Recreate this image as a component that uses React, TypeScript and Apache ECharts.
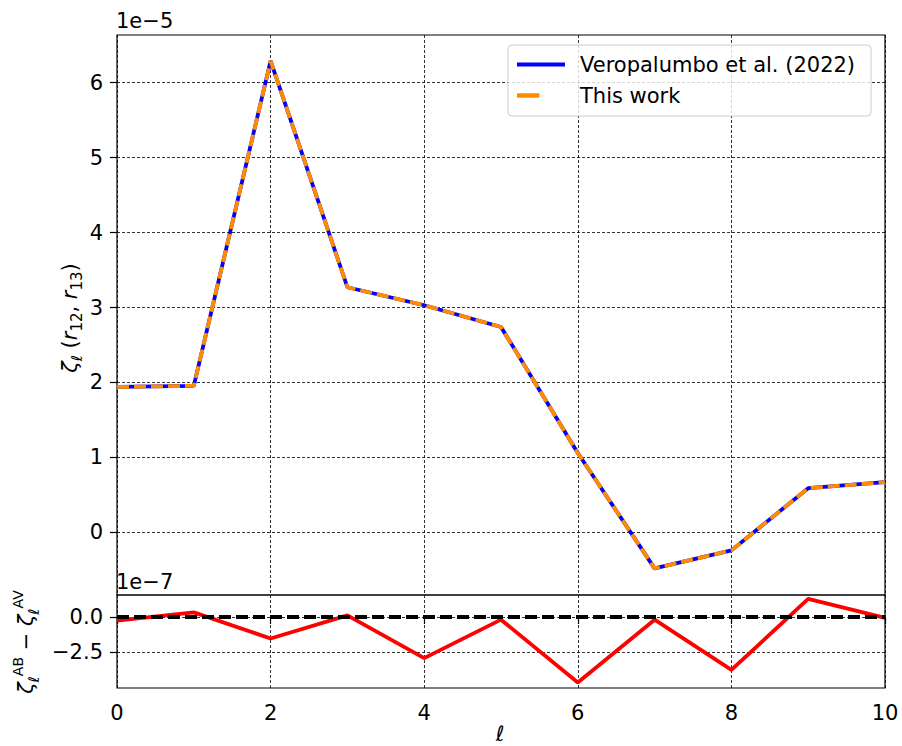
import React, { useEffect, useRef } from "react";
import * as echarts from "echarts";

const ells = [0, 1, 2, 3, 4, 5, 6, 7, 8, 9, 10];
// top panel, units of 1e-5
const veropalumbo = [1.94, 1.955, 6.29, 3.27, 3.03, 2.74, 1.06, -0.48, -0.24, 0.59, 0.67];
const thisWork = [1.94, 1.955, 6.29, 3.27, 3.03, 2.74, 1.06, -0.48, -0.24, 0.59, 0.67];
// bottom panel, units of 1e-7
const residual = [-0.26, 0.33, -1.53, 0.11, -2.92, -0.19, -4.65, -0.19, -3.76, 1.28, -0.07];
const zeroLine = [0, 0];
const zeroX = [0, 10];
const topTicks = [0, 1, 2, 3, 4, 5, 6];
const bottomTicks = [-2.5, 0];

const FONT = "DejaVu Sans";
const FS = 21;

export default function App() {
  const ref = useRef<HTMLDivElement>(null);
  useEffect(() => {
    if (!ref.current) return;
    const chart = echarts.init(ref.current, undefined, { renderer: "svg" });
    const gridLine = { type: [3, 2], color: "#000", width: 0.8 };
    const tick = { show: true, inside: false, length: 7, lineStyle: { color: "#000", width: 1.2 } };
    const minus = (s: string) => s.replace("-", "\u2212");
    const option: any = {
      animation: false,
      backgroundColor: "#fff",
      textStyle: { fontFamily: FONT },
      grid: [
        { left: 117, top: 35, width: 768, height: 560, show: true, borderColor: "#000", borderWidth: 1.2, backgroundColor: "transparent" },
        { left: 117, top: 595, width: 768, height: 93, show: true, borderColor: "#000", borderWidth: 1.2, backgroundColor: "transparent" },
      ],
      xAxis: [
        {
          type: "value", gridIndex: 0, min: 0, max: 10, interval: 2,
          axisLine: { show: false }, axisTick: { show: false }, axisLabel: { show: false },
          splitLine: { show: true, lineStyle: gridLine },
        },
        {
          type: "value", gridIndex: 1, min: 0, max: 10, interval: 2,
          axisLine: { show: false },
          axisTick: tick,
          axisLabel: { show: true, margin: 14, fontSize: FS, color: "#000", fontFamily: FONT },
          splitLine: { show: true, lineStyle: gridLine },
        },
      ],
      yAxis: [
        {
          type: "value", gridIndex: 0, min: -0.835, max: 6.635,
          axisLine: { show: false },
          axisTick: { ...tick, customValues: topTicks },
          axisLabel: {
            show: true, margin: 14, fontSize: FS, color: "#000", fontFamily: FONT,
            customValues: topTicks,
            formatter: (v: number) => minus(String(Math.round(v))),
          },
          splitLine: { show: true, lineStyle: gridLine },
        },
        {
          type: "value", gridIndex: 1, min: -5.04, max: 1.56,
          axisLine: { show: false },
          axisTick: { ...tick, customValues: bottomTicks },
          axisLabel: {
            show: true, margin: 14, fontSize: FS, color: "#000", fontFamily: FONT,
            customValues: bottomTicks,
            formatter: (v: number) => minus(v.toFixed(1)),
          },
          splitLine: { show: true, lineStyle: gridLine },
        },
      ],
      legend: {
        orient: "vertical",
        left: 508,
        top: 45,
        padding: [9, 16, 10, 9],
        itemWidth: 48,
        itemHeight: 14,
        itemGap: 10,
        backgroundColor: "rgba(255,255,255,0.8)",
        borderColor: "#cccccc",
        borderWidth: 1,
        borderRadius: 4,
        textStyle: { fontSize: FS, lineHeight: 21, color: "#000", fontFamily: FONT, padding: [0, 0, 0, 10] },
        data: [
          { name: "Veropalumbo et al. (2022)", icon: "path://M0,0L48,0L48,4L0,4Z", itemStyle: { color: "#0000ff" } },
          { name: "This work", icon: "path://M3,0L24,0L24,4L3,4L3,0M48,0L48,0.01L47.99,0.01Z", itemStyle: { color: "#ff8c00" } },
        ],
      },
      series: [
        {
          name: "Veropalumbo et al. (2022)", type: "line", xAxisIndex: 0, yAxisIndex: 0,
          data: ells.map((x, i) => [x, veropalumbo[i]]),
          showSymbol: false, symbol: "none",
          lineStyle: { color: "#0000ff", width: 3.8 }, itemStyle: { color: "#0000ff" },
          z: 2,
        },
        {
          name: "This work", type: "line", xAxisIndex: 0, yAxisIndex: 0,
          data: ells.map((x, i) => [x, thisWork[i]]),
          showSymbol: false, symbol: "none",
          lineStyle: { color: "#ff8c00", width: 3.8, type: [12, 5] }, itemStyle: { color: "#ff8c00" },
          z: 3,
        },
        {
          name: "residual", type: "line", xAxisIndex: 1, yAxisIndex: 1,
          data: ells.map((x, i) => [x, residual[i]]),
          showSymbol: false, symbol: "none",
          lineStyle: { color: "#ff0000", width: 3.8 }, itemStyle: { color: "#ff0000" },
          z: 2,
        },
        {
          name: "zero", type: "line", xAxisIndex: 1, yAxisIndex: 1,
          data: zeroX.map((x, i) => [x, zeroLine[i]]),
          showSymbol: false, symbol: "none",
          lineStyle: { color: "#000", width: 3.8, type: [12, 5] }, itemStyle: { color: "#000" },
          z: 3,
        },
      ],
      graphic: [
        { type: "text", x: 116, y: 21, style: { text: "1e\u22125", fontSize: FS, fill: "#000", fontFamily: FONT, align: "left", verticalAlign: "middle" } },
        { type: "text", x: 116, y: 582, style: { text: "1e\u22127", fontSize: FS, fill: "#000", fontFamily: FONT, align: "left", verticalAlign: "middle" } },
        { type: "text", x: 500, y: 734, style: { text: "\u2113", fontSize: FS, fontStyle: "italic", fill: "#000", fontFamily: FONT, align: "center", verticalAlign: "middle" } },
        {
          type: "text", x: 70, y: 318, rotation: Math.PI / 2,
          style: {
            text: "{m|\u03b6}{s|\u2113}{n| (}{m|r}{s|12}{n|, }{m|r}{s|13}{n|)}",
            align: "center", verticalAlign: "middle", fill: "#000", fontFamily: FONT,
            rich: {
              m: { fontSize: FS, fontStyle: "italic", lineHeight: 28, verticalAlign: "middle", fontFamily: FONT },
              n: { fontSize: FS, lineHeight: 28, verticalAlign: "middle", fontFamily: FONT },
              s: { fontSize: 15, lineHeight: 18, verticalAlign: "bottom", fontFamily: FONT },
            },
          },
        },
        {
          type: "text", x: 26, y: 642, rotation: Math.PI / 2,
          style: {
            text: "{m|\u03b6}{s|\u2113}{p|AB}{n| \u2212 }{m|\u03b6}{s|\u2113}{p|AV}",
            align: "center", verticalAlign: "middle", fill: "#000", fontFamily: FONT,
            rich: {
              m: { fontSize: FS, fontStyle: "italic", lineHeight: 30, verticalAlign: "middle", fontFamily: FONT },
              n: { fontSize: FS, lineHeight: 30, verticalAlign: "middle", fontFamily: FONT },
              s: { fontSize: 15, lineHeight: 18, verticalAlign: "bottom", fontFamily: FONT, fontStyle: "italic" },
              p: { fontSize: 14, lineHeight: 16, verticalAlign: "top", fontFamily: FONT },
            },
          },
        },
      ],
    };
    chart.setOption(option);
    return () => chart.dispose();
  }, []);
  return (
    <div
      ref={ref}
      style={{ position: "fixed", left: 0, top: 0, width: 902, height: 746, background: "#fff" }}
    />
  );
}
